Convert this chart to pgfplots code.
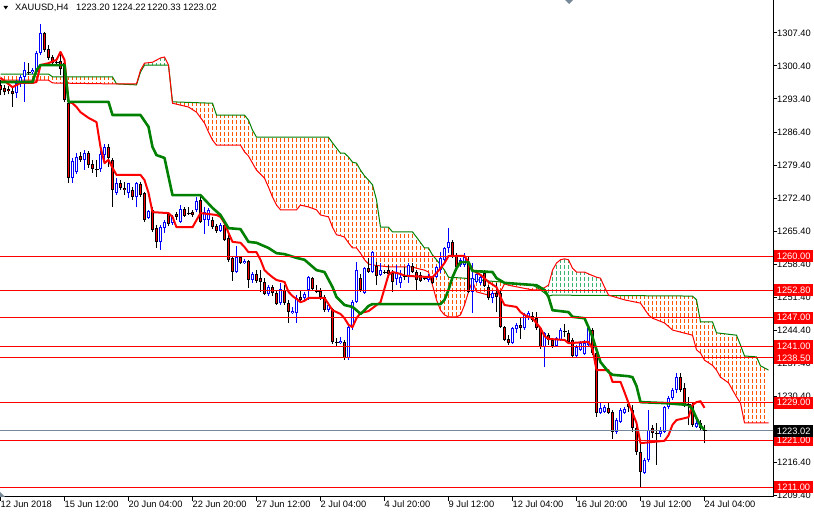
\documentclass[border=0pt]{standalone}
\usepackage{pgfplots}
\pgfplotsset{compat=1.18}
\usepackage{pgfplotstable}
\usepgfplotslibrary{fillbetween}
\usepackage{fontspec}
\setmainfont{Liberation Sans}

\definecolor{mtblue}{RGB}{0,0,255}
\definecolor{mtred}{RGB}{255,0,0}
\definecolor{mtgreen}{RGB}{0,128,0}
\definecolor{hatchor}{RGB}{255,84,0}
\definecolor{hatchgr}{RGB}{60,179,113}
\definecolor{bidgray}{RGB}{119,136,153}
\newcommand\lbl{\fontsize{9.3bp}{10bp}\selectfont}

% MT4 cloud hatching: a dashed vertical line every 4px, clipped to the cloud
\tikzset{hatch/.style={path picture={
  \foreach \k in {0,...,199} {
    \draw[#1, line width=1.1bp, dash pattern=on 4bp off 2bp]
      ([xshift=\k*4bp]path picture bounding box.north west) --
      ([xshift=\k*4bp]path picture bounding box.south west);
  }}}}

% XAUUSD H4 candles: bar open high low close
\pgfplotstableread{
x o h l c
4 1294.7 1297.4 1293.6 1296.8
5 1296.8 1298.5 1295.9 1298.1
6 1298.1 1301.2 1292.8 1299.5
8 1299.1 1300.0 1298.7 1299.5
9 1299.1 1303.6 1298.9 1303.2
10 1303.2 1309.3 1302.7 1307.4
18 1276.6 1280.9 1275.6 1280.3
19 1277.9 1281.9 1277.5 1281.1
21 1280.5 1282.6 1278.3 1281.9
25 1278.6 1282.6 1277.9 1281.7
26 1281.5 1283.9 1280.5 1283.2
29 1273.5 1276.6 1273.0 1275.6
32 1273.5 1275.6 1272.4 1275.6
34 1272.6 1275.8 1270.5 1275.6
37 1268.2 1269.9 1267.9 1269.6
40 1263.1 1266.7 1261.4 1266.2
41 1266.0 1267.7 1265.0 1267.3
43 1267.1 1268.8 1266.7 1268.4
45 1267.3 1270.9 1267.1 1270.1
49 1269.9 1272.6 1269.4 1271.8
51 1267.7 1270.5 1264.8 1269.4
52 1267.7 1270.3 1266.5 1269.9
55 1265.4 1267.1 1265.2 1266.7
59 1256.7 1262.2 1256.5 1259.9
61 1258.6 1259.5 1258.4 1259.0
63 1255.0 1256.7 1254.4 1256.3
67 1252.0 1253.9 1251.6 1253.5
70 1250.1 1254.4 1249.7 1253.1
73 1248.0 1249.3 1247.8 1248.4
74 1248.0 1251.8 1245.9 1251.2
76 1251.2 1252.5 1250.8 1252.0
77 1252.9 1255.9 1250.8 1255.6
82 1248.6 1250.1 1248.2 1249.7
85 1241.6 1242.9 1241.4 1242.1
87 1238.5 1245.3 1238.0 1245.0
88 1245.0 1250.8 1244.4 1250.3
89 1250.3 1258.8 1250.1 1257.1
91 1252.3 1257.8 1252.0 1257.5
93 1256.7 1261.2 1256.5 1260.9
95 1256.1 1258.6 1255.9 1257.1
99 1255.2 1258.2 1253.9 1256.7
100 1254.4 1257.1 1253.3 1255.6
102 1255.9 1258.6 1254.4 1258.2
107 1255.0 1256.3 1254.6 1255.9
109 1255.6 1258.0 1255.4 1257.8
110 1257.1 1260.9 1256.5 1259.7
111 1259.3 1262.0 1258.6 1261.8
112 1261.8 1266.0 1260.7 1263.1
115 1258.2 1259.7 1257.8 1259.3
116 1258.2 1260.7 1257.8 1259.9
118 1252.5 1258.6 1248.0 1255.4
119 1254.6 1256.3 1254.4 1256.3
120 1254.4 1255.9 1253.9 1255.6
123 1251.2 1252.9 1250.1 1252.3
128 1241.6 1245.0 1241.4 1244.8
129 1244.6 1245.9 1243.8 1245.5
131 1244.8 1248.0 1244.4 1247.6
132 1246.9 1248.4 1246.5 1248.0
136 1240.8 1244.0 1236.6 1243.8
139 1241.0 1242.9 1240.8 1242.7
140 1242.3 1244.8 1242.1 1244.4
144 1238.9 1241.2 1238.7 1240.8
145 1240.2 1242.1 1239.9 1241.6
146 1239.3 1242.3 1239.1 1241.6
147 1241.2 1245.3 1240.8 1244.8
150 1226.8 1228.9 1226.6 1227.9
151 1227.0 1228.5 1226.8 1228.1
154 1222.8 1225.7 1222.3 1225.3
155 1224.9 1227.9 1224.7 1227.4
156 1226.8 1228.1 1226.6 1227.6
161 1214.1 1217.3 1213.9 1216.8
162 1216.8 1227.4 1216.4 1223.2
165 1222.3 1223.8 1221.7 1223.0
166 1222.8 1228.3 1222.6 1228.1
167 1228.1 1230.4 1227.6 1230.0
168 1230.0 1232.1 1229.6 1231.7
169 1231.7 1235.3 1231.0 1234.4
174 1223.8 1225.3 1223.6 1224.7
}\bull

\pgfplotstableread{
x o h l c
0 1296.4 1297.4 1294.2 1295.3
1 1295.7 1296.4 1294.2 1294.9
2 1295.5 1296.2 1294.5 1295.1
3 1295.1 1295.9 1291.7 1294.5
11 1307.4 1307.6 1303.4 1303.8
12 1304.0 1304.9 1301.7 1302.1
13 1302.3 1302.7 1300.8 1301.0
15 1301.5 1303.2 1298.5 1299.8
16 1301.0 1301.7 1292.8 1293.2
17 1292.5 1292.8 1275.6 1276.6
20 1281.3 1282.2 1280.0 1280.5
22 1281.9 1282.4 1278.8 1279.4
23 1279.6 1280.5 1277.7 1278.6
27 1283.2 1283.9 1279.0 1280.9
28 1280.5 1280.9 1270.5 1274.1
30 1275.6 1276.2 1274.1 1274.5
31 1274.5 1275.8 1273.0 1274.1
33 1274.1 1274.7 1272.0 1272.6
35 1275.4 1275.8 1272.6 1273.0
36 1273.5 1273.7 1267.3 1267.7
38 1269.9 1270.5 1265.2 1265.6
39 1266.0 1266.7 1261.8 1263.1
42 1269.0 1269.4 1266.5 1266.9
44 1269.0 1269.4 1267.7 1268.4
46 1270.1 1270.5 1268.4 1268.6
48 1269.4 1269.9 1268.4 1268.8
50 1272.0 1272.6 1267.1 1267.3
53 1267.7 1268.4 1265.8 1266.2
54 1266.5 1266.9 1265.0 1265.4
56 1266.7 1267.1 1263.3 1263.5
57 1263.9 1264.6 1258.8 1259.3
58 1259.7 1259.9 1254.8 1256.7
60 1259.9 1260.1 1258.4 1258.6
62 1259.0 1259.3 1253.3 1255.0
64 1256.3 1257.1 1254.4 1254.8
65 1255.4 1257.1 1252.5 1254.6
66 1254.6 1255.4 1251.8 1252.0
68 1253.5 1253.9 1251.6 1252.3
69 1252.3 1252.7 1249.7 1249.9
71 1252.9 1253.9 1249.7 1250.1
72 1250.1 1250.8 1245.9 1248.2
75 1251.4 1252.9 1250.3 1250.8
78 1255.4 1255.6 1252.9 1253.1
80 1252.7 1253.3 1250.8 1251.4
81 1251.4 1251.8 1248.2 1248.6
83 1248.9 1249.1 1241.4 1241.9
86 1241.9 1242.3 1238.0 1238.5
90 1255.4 1256.3 1252.5 1252.9
92 1257.5 1259.7 1256.5 1256.7
94 1258.0 1258.8 1253.9 1255.9
97 1257.1 1258.2 1255.4 1256.3
98 1256.5 1257.1 1252.5 1254.6
103 1258.0 1258.6 1256.5 1256.7
104 1256.7 1257.1 1252.9 1255.0
105 1256.1 1256.7 1254.6 1254.8
108 1255.6 1255.9 1254.2 1254.4
113 1263.1 1263.5 1259.7 1260.1
114 1260.1 1260.7 1257.5 1257.8
117 1258.8 1259.9 1252.3 1252.5
121 1256.5 1257.1 1253.5 1253.7
122 1253.5 1253.9 1250.8 1251.2
124 1252.3 1254.4 1248.2 1251.4
125 1252.3 1252.9 1244.8 1245.0
126 1245.0 1245.3 1242.1 1242.3
127 1242.5 1243.3 1241.2 1241.6
130 1245.5 1247.2 1242.5 1244.8
133 1247.4 1248.2 1246.1 1246.5
134 1246.9 1248.2 1244.4 1244.8
135 1244.8 1245.0 1240.4 1240.8
137 1243.3 1243.8 1241.2 1242.3
138 1242.3 1242.7 1240.6 1241.0
142 1243.8 1244.4 1241.6 1241.9
143 1242.3 1242.7 1238.7 1238.9
148 1244.4 1244.8 1239.1 1239.5
149 1239.5 1239.9 1225.9 1226.8
152 1227.9 1228.9 1226.6 1226.8
153 1227.0 1227.4 1221.3 1222.8
157 1228.7 1229.1 1227.0 1228.1
158 1227.4 1228.5 1222.8 1223.6
159 1223.6 1224.9 1217.9 1218.5
160 1218.5 1220.6 1211.1 1214.3
163 1223.6 1224.3 1221.5 1222.6
170 1234.4 1235.3 1231.2 1231.7
171 1232.1 1233.2 1228.1 1228.5
173 1228.5 1228.9 1223.8 1224.3
175 1224.7 1225.3 1223.2 1223.6
}\bear

\pgfplotstableread{
x o h l c
7 1299.1 1301.0 1298.5 1299.0
14 1301.2 1301.7 1300.8 1301.1
24 1278.6 1280.5 1276.9 1278.5
47 1269.2 1270.5 1268.8 1269.1
79 1252.8 1253.9 1252.3 1252.6
84 1241.9 1242.7 1241.0 1241.8
96 1256.7 1257.1 1256.3 1256.6
101 1255.9 1257.8 1255.0 1255.8
106 1255.4 1255.9 1255.0 1255.3
141 1244.2 1245.7 1242.9 1244.1
164 1222.6 1224.7 1215.8 1222.5
172 1228.7 1230.2 1224.3 1228.6
176 1223.20 1224.22 1220.33 1223.02
}\doji

\begin{document}
\begin{tikzpicture}
\begin{axis}[
  at={(0bp,17bp)}, anchor=south west,
  scale only axis, width=773bp, height=497bp,
  xmin=-0.125, xmax=193.125, ymin=1208.98, ymax=1314.4,
  axis x line*=bottom, axis y line*=right,
  axis line style={-, black, line width=1bp},
  tick align=outside, major tick length=4bp,
  tick style={black, line width=1bp},
  xtick={0,16,...,176},
  xticklabels={12 Jun 2018,15 Jun 12:00,20 Jun 04:00,22 Jun 20:00,27 Jun 12:00,2 Jul 04:00,4 Jul 20:00,9 Jul 12:00,12 Jul 04:00,16 Jul 20:00,19 Jul 12:00,24 Jul 04:00},
  ytick={1209.4,1216.4,1223.4,1230.4,1237.4,1244.4,1251.4,1258.4,1265.4,1272.4,1279.4,1286.4,1293.4,1300.4,1307.4},
  yticklabels={1209.40,1216.40,1223.40,1230.40,1237.40,1244.40,1251.40,1258.40,1265.40,1272.40,1279.40,1286.40,1293.40,1300.40,1307.40},
  xticklabel style={anchor=north west, inner sep=0pt, font=\lbl},
  yticklabel style={anchor=west, inner sep=0pt, font=\lbl},
]
% Senkou span B (green) and span A (red)
\addplot[name path=sB, draw=none] coordinates {
(0,1298.7) (12,1298.7) (13,1298.1) (28,1298.1) (29,1296.6) (34,1296.4) (35,1299.1) (36,1300.6)
(42,1300.6) (43,1292.8) (53,1292.5) (54,1290.0) (61,1290.0) (62,1288.9) (63,1286.8) (64,1285.3)
(82,1285.3) (83,1284.1) (84,1283.0) (85,1281.9) (86,1281.9) (87,1281.1) (88,1280.0) (89,1279.8)
(90,1278.3) (91,1277.1) (92,1276.2) (93,1275.2) (94,1272.0) (95,1266.2) (97,1266.2) (98,1265.2)
(103,1265.2) (104,1264.1) (106,1261.8) (107,1261.8) (108,1260.3) (109,1259.3) (110,1258.2)
(111,1257.1) (112,1255.6) (116,1255.4) (118,1255.2) (122,1254.8) (125,1254.6) (126,1254.4)
(133,1254.0) (135,1252.9) (137,1251.6) (138,1251.8) (173,1251.6) (174,1250.8) (175,1246.1)
(178,1246.1) (179,1243.8) (184,1243.3) (185,1241.2) (186,1238.9) (189,1238.7) (190,1236.8) (192,1235.9)};
\addplot[name path=sA, draw=none] coordinates {
(0,1297.4) (12,1297.4) (13,1296.8) (28,1296.6) (34,1296.6) (35,1299.5) (36,1301.0) (38,1301.2)
(40,1302.1) (41,1302.3) (42,1300.6) (43,1292.5) (47,1291.7) (49,1290.6) (51,1288.3) (52,1286.4)
(53,1284.7) (54,1283.6) (60,1283.6) (61,1282.2) (62,1281.3) (63,1279.8) (64,1278.3) (66,1276.6)
(67,1274.7) (68,1272.6) (69,1270.9) (70,1269.9) (74,1269.9) (75,1270.9) (77,1270.5) (79,1269.9)
(80,1268.8) (82,1268.4) (83,1266.2) (84,1264.6) (85,1264.4) (86,1264.1) (87,1262.9) (88,1261.8)
(89,1261.8) (90,1260.7) (91,1259.3) (92,1258.4) (93,1258.2) (95,1258.0) (97,1257.8) (103,1257.8)
(104,1257.5) (106,1257.1) (107,1256.7) (108,1253.9) (109,1250.8) (110,1248.6) (111,1247.6)
(112,1247.2) (114,1247.2) (115,1247.6) (116,1249.7) (117,1252.5) (118,1254.8) (119,1252.5)
(122,1251.8) (125,1252.5) (126,1254.2) (127,1253.9) (133,1252.9) (135,1252.9) (137,1253.9)
(138,1257.1) (139,1258.6) (140,1259.3) (141,1259.5) (142,1259.3) (143,1257.5) (144,1256.7)
(146,1256.7) (147,1256.3) (149,1255.6) (150,1255.4) (151,1253.5) (152,1251.8) (156,1250.8)
(160,1250.1) (162,1247.6) (163,1246.9) (166,1245.9) (168,1244.4) (173,1243.3) (174,1240.2)
(175,1239.5) (176,1238.0) (178,1236.9) (179,1235.9) (180,1234.4) (182,1233.2) (184,1230.2)
(185,1228.9) (186,1224.7) (192,1224.7)};
\addplot[fill=none, draw=none, hatch=hatchor] fill between[of=sB and sA, soft clip={domain=0:35}];
\addplot[fill=none, draw=none, hatch=hatchgr] fill between[of=sB and sA, soft clip={domain=35:43}];
\addplot[fill=none, draw=none, hatch=hatchor] fill between[of=sB and sA, soft clip={domain=43:135}];
\addplot[fill=none, draw=none, hatch=hatchgr] fill between[of=sB and sA, soft clip={domain=135:152}];
\addplot[fill=none, draw=none, hatch=hatchor] fill between[of=sB and sA, soft clip={domain=152:192}];
\addplot[mtgreen, line width=1bp] coordinates {
(0,1298.7) (12,1298.7) (13,1298.1) (28,1298.1) (29,1296.6) (34,1296.4) (35,1299.1) (36,1300.6)
(42,1300.6) (43,1292.8) (53,1292.5) (54,1290.0) (61,1290.0) (62,1288.9) (63,1286.8) (64,1285.3)
(82,1285.3) (83,1284.1) (84,1283.0) (85,1281.9) (86,1281.9) (87,1281.1) (88,1280.0) (89,1279.8)
(90,1278.3) (91,1277.1) (92,1276.2) (93,1275.2) (94,1272.0) (95,1266.2) (97,1266.2) (98,1265.2)
(103,1265.2) (104,1264.1) (106,1261.8) (107,1261.8) (108,1260.3) (109,1259.3) (110,1258.2)
(111,1257.1) (112,1255.6) (116,1255.4) (118,1255.2) (122,1254.8) (125,1254.6) (126,1254.4)
(133,1254.0) (135,1252.9) (137,1251.6) (138,1251.8) (173,1251.6) (174,1250.8) (175,1246.1)
(178,1246.1) (179,1243.8) (184,1243.3) (185,1241.2) (186,1238.9) (189,1238.7) (190,1236.8) (192,1235.9)};
\addplot[mtred, line width=1bp] coordinates {
(0,1297.4) (12,1297.4) (13,1296.8) (28,1296.6) (34,1296.6) (35,1299.5) (36,1301.0) (38,1301.2)
(40,1302.1) (41,1302.3) (42,1300.6) (43,1292.5) (47,1291.7) (49,1290.6) (51,1288.3) (52,1286.4)
(53,1284.7) (54,1283.6) (60,1283.6) (61,1282.2) (62,1281.3) (63,1279.8) (64,1278.3) (66,1276.6)
(67,1274.7) (68,1272.6) (69,1270.9) (70,1269.9) (74,1269.9) (75,1270.9) (77,1270.5) (79,1269.9)
(80,1268.8) (82,1268.4) (83,1266.2) (84,1264.6) (85,1264.4) (86,1264.1) (87,1262.9) (88,1261.8)
(89,1261.8) (90,1260.7) (91,1259.3) (92,1258.4) (93,1258.2) (95,1258.0) (97,1257.8) (103,1257.8)
(104,1257.5) (106,1257.1) (107,1256.7) (108,1253.9) (109,1250.8) (110,1248.6) (111,1247.6)
(112,1247.2) (114,1247.2) (115,1247.6) (116,1249.7) (117,1252.5) (118,1254.8) (119,1252.5)
(122,1251.8) (125,1252.5) (126,1254.2) (127,1253.9) (133,1252.9) (135,1252.9) (137,1253.9)
(138,1257.1) (139,1258.6) (140,1259.3) (141,1259.5) (142,1259.3) (143,1257.5) (144,1256.7)
(146,1256.7) (147,1256.3) (149,1255.6) (150,1255.4) (151,1253.5) (152,1251.8) (156,1250.8)
(160,1250.1) (162,1247.6) (163,1246.9) (166,1245.9) (168,1244.4) (173,1243.3) (174,1240.2)
(175,1239.5) (176,1238.0) (178,1236.9) (179,1235.9) (180,1234.4) (182,1233.2) (184,1230.2)
(185,1228.9) (186,1224.7) (192,1224.7)};

% candles: wicks, then bodies
\addplot[draw=none, mark=none, error bars/.cd, y dir=plus, y explicit, error mark=none,
  error bar style={draw=mtblue, line width=1bp}]
  table[x=x, y=l, y error plus expr=\thisrow{h}-\thisrow{l}] {\bull};
\addplot[draw=none, mark=none, error bars/.cd, y dir=plus, y explicit, error mark=none,
  error bar style={draw=black, line width=1bp}]
  table[x=x, y=l, y error plus expr=\thisrow{h}-\thisrow{l}] {\bear};
\addplot[draw=none, mark=none, error bars/.cd, y dir=plus, y explicit, error mark=none,
  error bar style={draw=black, line width=1bp}]
  table[x=x, y=l, y error plus expr=\thisrow{h}-\thisrow{l}] {\doji};
\addplot[draw=none, mark=none, error bars/.cd, y dir=plus, y explicit, error mark=none,
  error bar style={draw=mtblue, line width=3bp}]
  table[x=x, y=o, y error plus expr=\thisrow{c}-\thisrow{o}] {\bull};
\addplot[draw=none, mark=none, error bars/.cd, y dir=plus, y explicit, error mark=none,
  error bar style={draw=white, line width=1bp}]
  table[x=x, y expr=\thisrow{o}+0.22, y error plus expr=\thisrow{c}-\thisrow{o}-0.44] {\bull};
\addplot[draw=none, mark=none, error bars/.cd, y dir=plus, y explicit, error mark=none,
  error bar style={draw=black, line width=3bp}]
  table[x=x, y=c, y error plus expr=\thisrow{o}-\thisrow{c}] {\bear};
\addplot[draw=none, mark=none, error bars/.cd, y dir=plus, y explicit, error mark=none,
  error bar style={draw=mtred, line width=1.4bp}]
  table[x=x, y expr=\thisrow{c}+0.22, y error plus expr=\thisrow{o}-\thisrow{c}-0.44] {\bear};
\addplot[only marks, mark=-, mark size=2bp, mark options={black, line width=1bp}]
  table[x=x, y=c] {\doji};

% Tenkan-sen
\addplot[mtred, line width=2bp, line join=round] coordinates {
(0,1297.9) (3,1295.9) (5,1296.8) (8,1296.8) (9,1297.0) (10,1300.6) (12,1301.0) (14,1301.7)
(15,1303.4) (16,1301.7) (17,1292.8) (18,1292.5) (19,1291.7) (20,1290.6) (22,1289.4) (24,1288.5)
(25,1283.2) (26,1279.8) (27,1280.5) (28,1278.8) (29,1277.3) (35,1277.3) (36,1276.2) (37,1273.5)
(38,1269.4) (42,1269.2) (43,1268.4) (44,1266.2) (48,1266.2) (50,1269.2) (54,1268.8) (55,1268.4)
(56,1267.1) (57,1265.0) (58,1263.1) (60,1262.9) (61,1262.0) (62,1260.9) (64,1260.9) (65,1259.3)
(66,1257.1) (67,1256.3) (68,1255.6) (69,1255.0) (71,1254.6) (72,1252.5) (73,1251.6) (74,1251.0)
(75,1250.3) (76,1250.6) (77,1251.2) (81,1251.2) (83,1248.6) (85,1247.8) (86,1246.9) (87,1245.5)
(88,1245.0) (89,1246.9) (90,1248.0) (92,1248.4) (95,1250.3) (97,1256.1) (98,1256.7) (100,1256.3)
(101,1255.9) (108,1255.6) (109,1256.5) (110,1257.5) (111,1258.6) (112,1260.1) (116,1260.1)
(117,1258.8) (118,1257.1) (120,1256.1) (122,1254.6) (124,1253.5) (125,1251.4) (126,1249.7)
(129,1249.3) (130,1248.2) (131,1247.6) (133,1246.9) (135,1244.8) (136,1243.1) (137,1242.5)
(141,1242.3) (142,1241.6) (147,1241.9) (148,1240.4) (149,1235.9) (152,1235.9) (153,1233.4)
(155,1233.4) (156,1231.2) (157,1228.9) (158,1226.8) (159,1224.7) (160,1220.4) (166,1220.9)
(167,1222.1) (168,1224.3) (169,1225.3) (172,1225.9) (173,1228.5) (174,1229.1) (175,1229.3) (176,1227.9)};
% Kijun-sen
\addplot[mtgreen, line width=2.6bp, line join=round] coordinates {
(0,1297.0) (8,1297.0) (9,1299.5) (10,1300.6) (16,1300.6) (17,1292.8) (27,1292.8) (28,1290.0)
(35,1290.0) (37,1287.5) (38,1283.2) (39,1281.5) (41,1280.9) (43,1273.0) (50,1273.0) (53,1270.3)
(55,1268.8) (57,1266.0) (60,1265.8) (62,1263.1) (64,1262.9) (67,1261.8) (69,1260.7) (71,1260.5)
(74,1259.7) (76,1259.3) (79,1257.1) (81,1256.7) (83,1253.5) (84,1251.4) (86,1249.7) (88,1249.3)
(89,1248.6) (90,1247.8) (91,1248.6) (92,1249.5) (93,1249.9) (110,1249.9) (111,1250.8) (112,1252.9)
(113,1255.6) (114,1257.5) (115,1258.8) (117,1258.8) (118,1256.9) (123,1256.7) (124,1255.4)
(126,1254.4) (134,1253.9) (136,1252.9) (137,1251.4) (138,1248.6) (142,1248.2) (143,1247.2)
(146,1246.9) (147,1245.0) (148,1242.9) (149,1240.2) (150,1237.6) (152,1235.5) (153,1234.9)
(157,1234.6) (158,1234.4) (159,1232.5) (160,1229.1) (166,1228.9) (172,1228.5) (173,1227.6)
(174,1225.7) (175,1224.1) (176,1223.2)};

% horizontal levels and bid line
\addplot[mtred, line width=1bp] coordinates {(-1,1260) (194,1260)};
\addplot[mtred, line width=1bp] coordinates {(-1,1252.8) (194,1252.8)};
\addplot[mtred, line width=1bp] coordinates {(-1,1247) (194,1247)};
\addplot[mtred, line width=1bp] coordinates {(-1,1241) (194,1241)};
\addplot[mtred, line width=1bp] coordinates {(-1,1238.5) (194,1238.5)};
\addplot[mtred, line width=1bp] coordinates {(-1,1229) (194,1229)};
\addplot[mtred, line width=1bp] coordinates {(-1,1221) (194,1221)};
\addplot[mtred, line width=1bp] coordinates {(-1,1211) (194,1211)};
\addplot[bidgray, line width=1bp] coordinates {(-1,1223.02) (194,1223.02)};

\coordinate (L1) at (axis cs:193.125,1260);
\coordinate (L2) at (axis cs:193.125,1252.8);
\coordinate (L3) at (axis cs:193.125,1247);
\coordinate (L4) at (axis cs:193.125,1241);
\coordinate (L5) at (axis cs:193.125,1238.5);
\coordinate (L6) at (axis cs:193.125,1229);
\coordinate (L7) at (axis cs:193.125,1221);
\coordinate (L8) at (axis cs:193.125,1211);
\coordinate (LB) at (axis cs:193.125,1223.02);
\end{axis}

\tikzset{lvl/.style={fill=mtred, text=white, anchor=west, inner sep=0pt,
  minimum width=39bp, minimum height=12bp, font=\lbl, xshift=1bp}}
\node[lvl] at (L1) {1260.00};
\node[lvl] at (L2) {1252.80};
\node[lvl] at (L3) {1247.00};
\node[lvl] at (L4) {1241.00};
\node[lvl] at (L5) {1238.50};
\node[lvl] at (L6) {1229.00};
\node[lvl] at (L7) {1221.00};
\node[lvl] at (L8) {1211.00};
\node[lvl, fill=black] at (LB) {1223.02};

% header line
\fill (3.5bp,508bp) -- (8bp,508bp) -- (5.75bp,504.5bp) -- cycle;
\node[anchor=base west, inner sep=0pt, font=\lbl] at (15bp,503.3bp) {XAUUSD,H4};
\node[anchor=base west, inner sep=0pt, font=\lbl] at (76bp,503.3bp) {1223.20};
\node[anchor=base west, inner sep=0pt, font=\lbl] at (112bp,503.3bp) {1224.22};
\node[anchor=base west, inner sep=0pt, font=\lbl] at (147bp,503.3bp) {1220.33};
\node[anchor=base west, inner sep=0pt, font=\lbl] at (183bp,503.3bp) {1223.02};
% chart shift markers
\fill[bidgray] (565bp,514bp) -- (573bp,514bp) -- (569bp,510bp) -- cycle;
\fill[bidgray] (0bp,22bp) -- (0bp,17bp) -- (5bp,17bp) -- cycle;

\pgfresetboundingbox
\path[use as bounding box] (0,0) rectangle (814bp,514bp);
\end{tikzpicture}
\end{document}
